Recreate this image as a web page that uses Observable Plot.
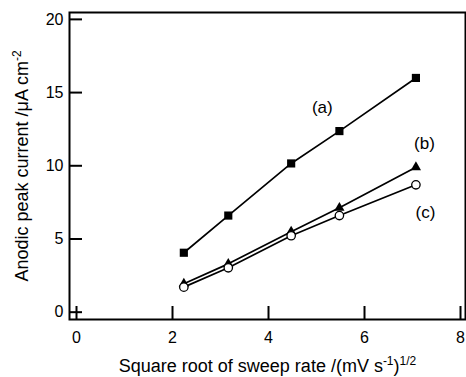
<!DOCTYPE html>
<html>
<head>
<meta charset="utf-8">
<script src="https://cdn.jsdelivr.net/npm/d3@7"></script>
<script src="https://cdn.jsdelivr.net/npm/@observablehq/plot@0.6"></script>
<style>
  html, body { margin: 0; padding: 0; background: #fff; }
  svg { display: block; }
</style>
</head>
<body>
<div id="chart"></div>
<script>
// sqrt of sweep rate (mV/s)^1/2
const sweepRoot = [2.236, 3.162, 4.472, 5.477, 7.071];
const seriesA = [4.06, 6.6, 10.16, 12.37, 16.0];
const seriesB = [1.94, 3.3, 5.5, 7.13, 9.9];
const seriesC = [1.71, 3.03, 5.22, 6.6, 8.7];
const xTicks = [0, 2, 4, 6, 8];
const yTicks = [0, 5, 10, 15, 20];
const seriesLabels = [
  {text: "(a)", x: 5.12, y: 14.0},
  {text: "(b)", x: 7.25, y: 11.55},
  {text: "(c)", x: 7.27, y: 6.8}
];
const xLabel = "Square root of sweep rate /(mV s-1)1/2";
const yLabel = "Anodic peak current /μA cm-2";

const xDomain = [-0.146, 8.104];
const yDomain = [-0.5, 20.47];

const toRows = (ys) => sweepRoot.map((x, i) => ({x, y: ys[i]}));
const A = toRows(seriesA), B = toRows(seriesB), C = toRows(seriesC);

const font = "'Liberation Sans', Arial, Helvetica, sans-serif";
const W = 466, H = 377, mL = 69, mR = 1, mT = 12, mB = 58;
const tickLen = 13;

const plot = Plot.plot({
  width: W,
  height: H,
  marginLeft: mL,
  marginRight: mR,
  marginTop: mT,
  marginBottom: mB,
  style: {fontFamily: font, fontSize: "16px", color: "#000", background: "#fff"},
  x: {domain: xDomain, axis: null},
  y: {domain: yDomain, axis: null},
  marks: [
    Plot.frame({stroke: "#000", strokeWidth: 2}),
    // inward ticks
    Plot.tickX(xTicks, {x: d => d, insetTop: (H - mT - mB) - tickLen, stroke: "#000", strokeWidth: 2}),
    Plot.tickY(yTicks, {y: d => d, insetRight: (W - mL - mR) - tickLen, stroke: "#000", strokeWidth: 2}),
    // tick labels
    Plot.text(xTicks, {x: d => d, y: yDomain[0], text: d => String(d), dy: 18, fontSize: 16, fill: "#000"}),
    Plot.text(yTicks, {x: xDomain[0], y: d => d, text: d => String(d), dx: -6, textAnchor: "end", fontSize: 16, fill: "#000"}),
    // lines
    Plot.line(A, {x: "x", y: "y", stroke: "#000", strokeWidth: 1.7}),
    Plot.line(B, {x: "x", y: "y", stroke: "#000", strokeWidth: 1.7}),
    Plot.line(C, {x: "x", y: "y", stroke: "#000", strokeWidth: 1.7}),
    Plot.dot(A, {x: "x", y: "y", symbol: "square", r: 4.6, fill: "#000", stroke: "none"}),
    Plot.dot(B, {x: "x", y: "y", symbol: "triangle", r: 3.8, fill: "#000", stroke: "none"}),
    Plot.dot(C, {x: "x", y: "y", symbol: "circle", r: 4.2, fill: "#fff", stroke: "#000", strokeWidth: 1.3}),
    Plot.text(seriesLabels, {x: "x", y: "y", text: "text", fontSize: 17, fill: "#000"}),
    // axis titles
    Plot.text([xLabel], {frameAnchor: "bottom", dy: 47, textAnchor: "middle", lineAnchor: "middle", text: d => d, fontSize: 18, fill: "#000", className: "xlab"}),
    Plot.text([yLabel], {frameAnchor: "left", dx: -47, rotate: -90, textAnchor: "middle", lineAnchor: "middle", text: d => d, fontSize: 18, fill: "#000", className: "ylab"})
  ]
});

document.getElementById("chart").appendChild(plot);

// add superscripts to axis titles
function withSup(sel, pieces) {
  const t = d3.select(plot).select(sel).select("text");
  t.text(null);
  pieces.forEach(p => {
    const ts = t.append("tspan").text(p.s);
    if (p.size) ts.attr("font-size", p.size);
    if (p.dy) ts.attr("dy", p.dy);
  });
}
withSup(".xlab", [
  {s: "Square root of sweep rate /(mV s"},
  {s: "-1", size: "12px", dy: "-7"},
  {s: ")", dy: "7"},
  {s: "1/2", size: "12px", dy: "-7"}
]);
withSup(".ylab", [
  {s: "Anodic peak current /μA cm"},
  {s: "-2", size: "12px", dy: "-7"}
]);
</script>
</body>
</html>
